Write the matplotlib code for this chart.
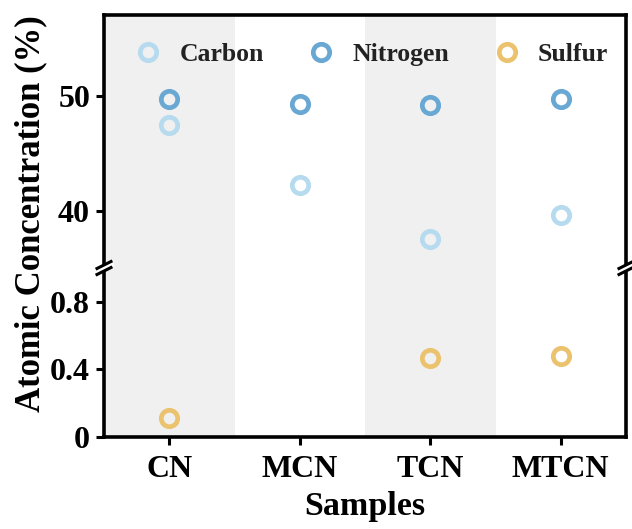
import numpy as np
import matplotlib
matplotlib.use("Agg")
import matplotlib.pyplot as plt

plt.rcParams['font.family'] = ['Liberation Serif', 'DejaVu Serif']
plt.rcParams['font.weight'] = 'bold'

samples = ["CN", "MCN", "TCN", "MTCN"]
carbon = [47.4, 42.2, 37.5, 39.6]
nitrogen = [49.7, 49.3, 49.2, 49.7]
sulfur = [0.11, np.nan, 0.47, 0.48]

c_carbon = "#b6dbee"
c_nitro = "#6aa8d4"
c_sulfur = "#ebc36e"
shade = "#f0f0f0"

W, H = 632, 529
fig = plt.figure(figsize=(W / 100, H / 100), dpi=100)
L, R = 104 / W, 626 / W
YB = 268
ax_top = fig.add_axes([L, 1 - YB / H, R - L, (YB - 15) / H])
ax_bot = fig.add_axes([L, 1 - 437 / H, R - L, (437 - YB) / H])

x = np.arange(len(samples))
mk = dict(marker='o', linestyle='none', markersize=11.8, markeredgewidth=3.4,
          markerfacecolor='none', zorder=3)

for ax in (ax_top, ax_bot):
    for i in (0, 2):
        ax.axvspan(i - 0.5, i + 0.5, color=shade, zorder=0, lw=0)
    ax.set_xlim(-0.5, 3.5)
    for s in ax.spines.values():
        s.set_linewidth(2.6)
    ax.tick_params(axis='both', width=2.2, length=6, labelsize=23, direction='out')

h1, = ax_top.plot(x, carbon, markeredgecolor=c_carbon, label="Carbon", **mk)
h2, = ax_top.plot(x, nitrogen, markeredgecolor=c_nitro, label="Nitrogen", **mk)
h3, = ax_bot.plot(x, sulfur, markeredgecolor=c_sulfur, label="Sulfur", **mk)

ax_top.set_ylim(35, 57)
ax_top.set_yticks([40, 50])
ax_top.spines['bottom'].set_visible(False)
ax_top.tick_params(axis='x', bottom=False, labelbottom=False)

ax_bot.set_ylim(0, 1.0)
ax_bot.set_yticks([0, 0.4, 0.8])
ax_bot.set_yticklabels(['0', '0.4', '0.8'])
ax_bot.spines['top'].set_visible(False)
ax_bot.set_xticks(x)
ax_bot.set_xticklabels(samples)
ax_bot.tick_params(axis='x', pad=7)
ax_top.tick_params(axis='y', pad=4)
ax_bot.tick_params(axis='y', pad=4)

for lab in ax_top.get_yticklabels() + ax_bot.get_yticklabels() + ax_bot.get_xticklabels():
    lab.set_fontweight('bold')

leg = ax_top.legend(handles=[h1, h2, h3], loc='upper center', ncol=3, frameon=False,
                    prop={'size': 18.5, 'weight': 'bold'}, handlelength=1.0,
                    handletextpad=0.7, columnspacing=1.75,
                    bbox_to_anchor=(0.513, 0.985), borderaxespad=0.55)
for t in leg.get_texts():
    t.set_color('#222222')

# break marks
for xp in (L, R):
    xa, xb = xp - 7 / W, xp + 7 / W
    yc = 1 - YB / H
    fig.add_artist(plt.Line2D([xa, xb], [yc - 3.5 / H, yc + 3.5 / H], color='white',
                              lw=4, transform=fig.transFigure))
    for yp in (YB - 3, YB + 3):
        yf = 1 - yp / H
        fig.add_artist(plt.Line2D([xa, xb], [yf - 3.5 / H, yf + 3.5 / H],
                                  color='black', lw=2.2, transform=fig.transFigure))

fig.text(0.049, 1 - 214 / H, "Atomic Concentration (%)", rotation=90, ha='center',
         va='center', fontsize=25, fontweight='bold')
fig.text((L + R) / 2, 1 - 507 / H, "Samples", ha='center', va='center',
         fontsize=24.5, fontweight='bold')

fig.savefig("out.png", dpi=100)
